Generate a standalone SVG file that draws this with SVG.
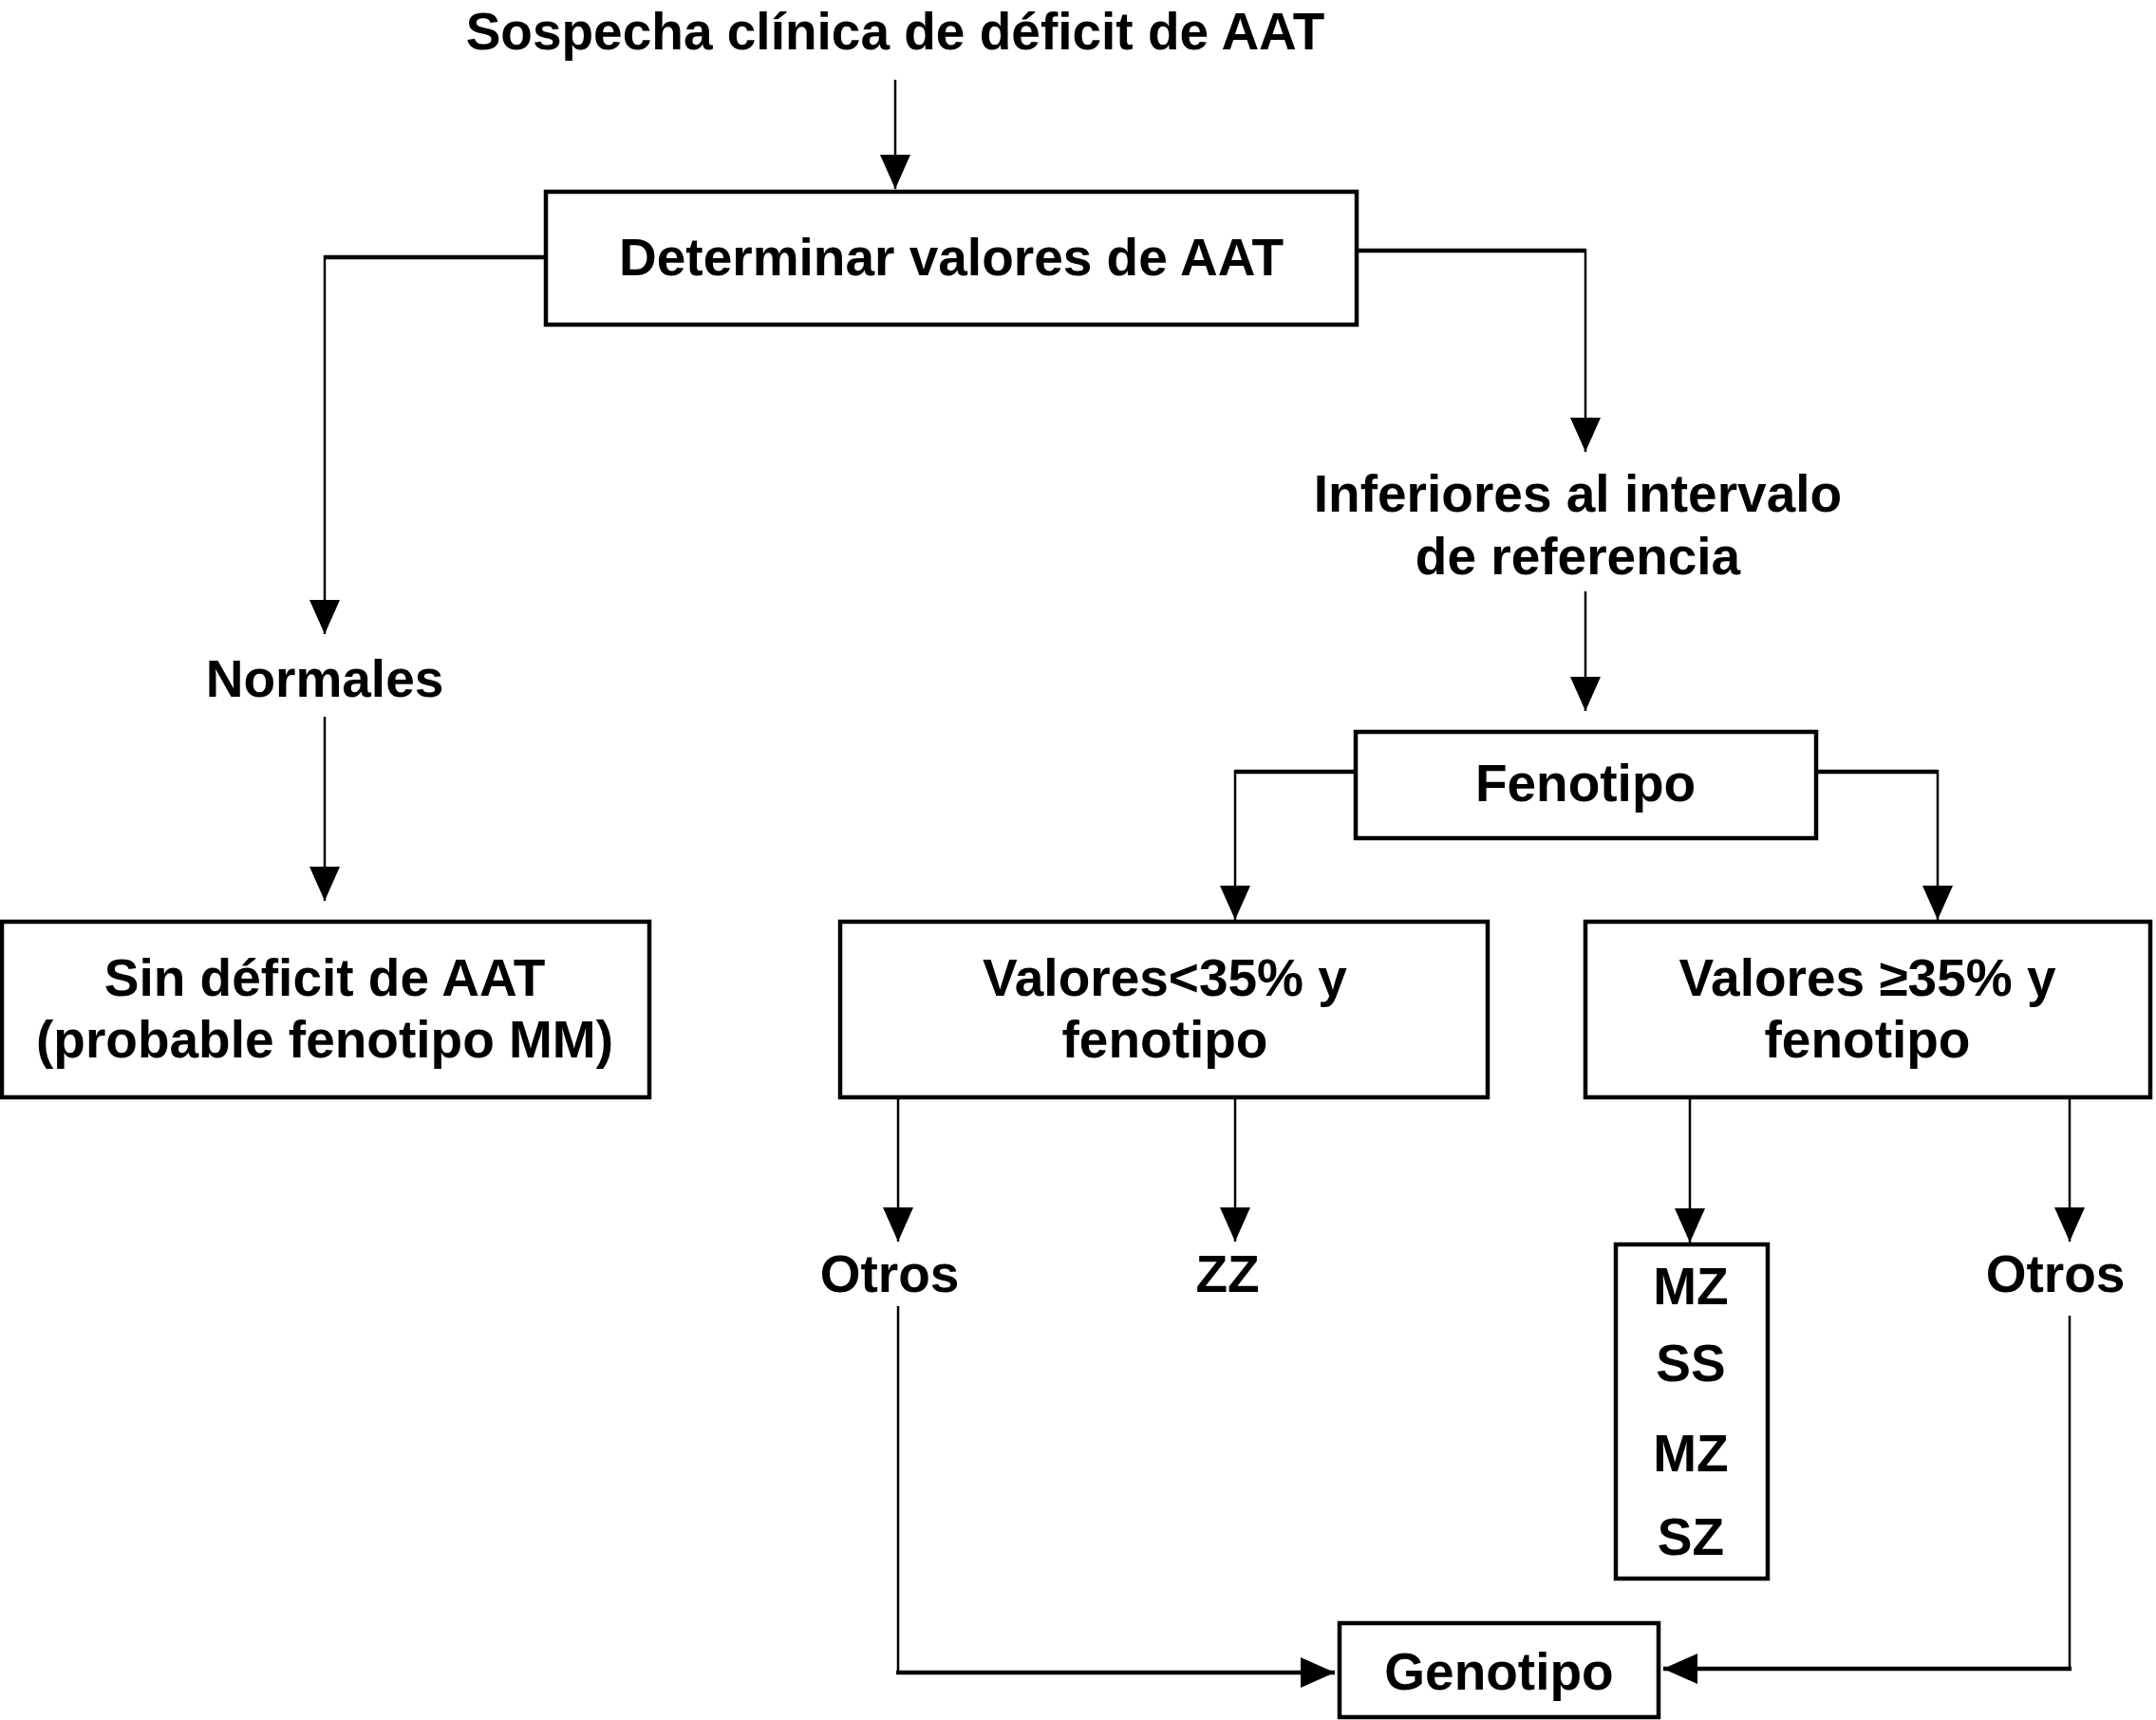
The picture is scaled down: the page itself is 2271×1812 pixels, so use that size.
<svg xmlns="http://www.w3.org/2000/svg" width="2271" height="1812" viewBox="0 0 2271 1812">
<style>
.t{font-family:"Liberation Sans",Arial,Helvetica,sans-serif;font-weight:bold;font-size:55px;fill:#000;text-anchor:middle}
.b{fill:#fff;stroke:#000;stroke-width:4.5}
.v{fill:none;stroke:#000;stroke-width:2.5}
.h{fill:none;stroke:#000;stroke-width:4.5}
</style>
<defs>
<marker id="ah" markerUnits="userSpaceOnUse" markerWidth="36" markerHeight="32" refX="36" refY="16" orient="auto">
<path d="M0,0 L36,16 L0,32 z" fill="#000"/>
</marker>
</defs>
<rect width="2271" height="1812" fill="#fff"/>
<g id="connectors">
<path class="v" d="M943,84 V199" marker-end="url(#ah)"/>
<path class="h" d="M575,271 H342"/>
<path class="v" d="M342,269 V668" marker-end="url(#ah)"/>
<path class="h" d="M1429,264 H1670"/>
<path class="v" d="M1670,262 V476" marker-end="url(#ah)"/>
<path class="v" d="M1670,623 V749" marker-end="url(#ah)"/>
<path class="v" d="M342,755 V949" marker-end="url(#ah)"/>
<path class="h" d="M1428,813 H1301"/>
<path class="v" d="M1301,811 V969" marker-end="url(#ah)"/>
<path class="h" d="M1913,813 H2041"/>
<path class="v" d="M2041,811 V969" marker-end="url(#ah)"/>
<path class="v" d="M946,1156 V1308" marker-end="url(#ah)"/>
<path class="v" d="M1301,1156 V1308" marker-end="url(#ah)"/>
<path class="v" d="M1780,1156 V1309" marker-end="url(#ah)"/>
<path class="v" d="M2180,1156 V1308" marker-end="url(#ah)"/>
<path class="v" d="M946,1376 V1762"/>
<path class="h" d="M944,1762 H1406" marker-end="url(#ah)"/>
<path class="v" d="M2180,1386 V1758"/>
<path class="h" d="M2182,1758 H1752" marker-end="url(#ah)"/>
</g>
<g id="title"><text class="t" x="943" y="52">Sospecha clínica de déficit de AAT</text></g>
<g id="determinar"><rect class="b" x="575" y="202" width="854" height="140"/><text class="t" x="1002" y="290">Determinar valores de AAT</text></g>
<g id="inferiores"><text class="t" x="1662" y="539">Inferiores al intervalo</text><text class="t" x="1662" y="605">de referencia</text></g>
<g id="normales"><text class="t" x="342" y="734">Normales</text></g>
<g id="sin"><rect class="b" x="2" y="971" width="682" height="185"/><text class="t" x="342" y="1049">Sin déficit de AAT</text><text class="t" x="342" y="1114">(probable fenotipo MM)</text></g>
<g id="fenotipo"><rect class="b" x="1428" y="771" width="485" height="112"/><text class="t" x="1670" y="844">Fenotipo</text></g>
<g id="menor"><rect class="b" x="885" y="971" width="682" height="185"/><text class="t" x="1227" y="1049">Valores&lt;35% y</text><text class="t" x="1227" y="1114">fenotipo</text></g>
<g id="mayor"><rect class="b" x="1670" y="971" width="595" height="185"/><text class="t" x="1967" y="1049">Valores ≥35% y</text><text class="t" x="1967" y="1114">fenotipo</text></g>
<g id="otros1"><text class="t" x="937" y="1361">Otros</text></g>
<g id="zz"><text class="t" x="1293" y="1361">ZZ</text></g>
<g id="lista"><rect class="b" x="1702" y="1311" width="160" height="352"/><text class="t" x="1781" y="1374">MZ</text><text class="t" x="1781" y="1455">SS</text><text class="t" x="1781" y="1550">MZ</text><text class="t" x="1781" y="1638">SZ</text></g>
<g id="otros2"><text class="t" x="2165" y="1361">Otros</text></g>
<g id="genotipo"><rect class="b" x="1411" y="1710" width="336" height="99"/><text class="t" x="1579" y="1780">Genotipo</text></g>
</svg>
